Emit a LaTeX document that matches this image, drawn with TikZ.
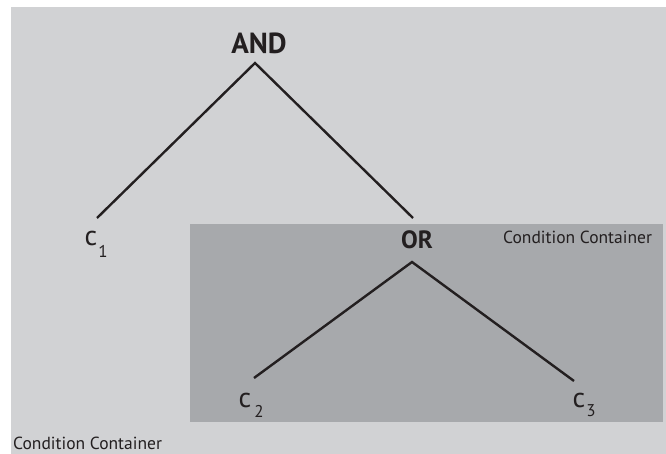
\documentclass[tikz,border=0pt]{standalone}
\usepackage{fontspec}
\setmainfont{PT Sans}
\definecolor{outerbg}{HTML}{D1D2D4}
\definecolor{innerbg}{HTML}{A7A9AC}
\definecolor{ink}{HTML}{231F20}
\begin{document}
\begin{tikzpicture}[x=1pt,y=-1pt,
  edge/.style={draw=ink,line width=2.4pt},
  opnode/.style={text=ink,font=\bfseries\fontsize{29}{31}\selectfont,inner sep=0pt},
  leafc/.style={text=ink,font=\fontsize{28}{30}\selectfont,inner sep=0pt},
  leafsub/.style={text=ink,font=\fontsize{17}{19}\selectfont,inner sep=0pt},
  caption/.style={text=ink,font=\fontsize{17.5}{19}\selectfont,inner sep=0pt,anchor=west}]
\useasboundingbox (0,0) rectangle (666,454);
\fill[white] (0,0) rectangle (666,454);
\fill[outerbg] (11,7) rectangle (666,454);
\fill[innerbg] (190,224) rectangle (663,422);
% operators
\node[opnode] (and) at (259,43) {AND};
\node[opnode,font=\bfseries\fontsize{25}{27}\selectfont] (or) at (417,240) {OR};
\coordinate (andtop) at (255,63);
\coordinate (ortop) at (412,262);
% leaves
\node[leafc] (c1) at (91,239) {c};
\node[leafsub] (s1) at (103,251) {1};
\node[leafc] (c2) at (245,400) {c};
\node[leafsub] (s2) at (259,411) {2};
\node[leafc] (c3) at (579,400) {c};
\node[leafsub] (s3) at (591,411) {3};
\coordinate (e1) at (97,218);
\coordinate (eor) at (413,218);
\coordinate (e2) at (254,378);
\coordinate (e3) at (574,381);
\draw[edge] (e1) -- (andtop) -- (eor);
\draw[edge] (e2) -- (ortop) -- (e3);
% captions
\node[caption] (cap1) at (503,237) {Condition Container};
\node[caption] (cap2) at (13,443) {Condition Container};
\end{tikzpicture}
\end{document}
